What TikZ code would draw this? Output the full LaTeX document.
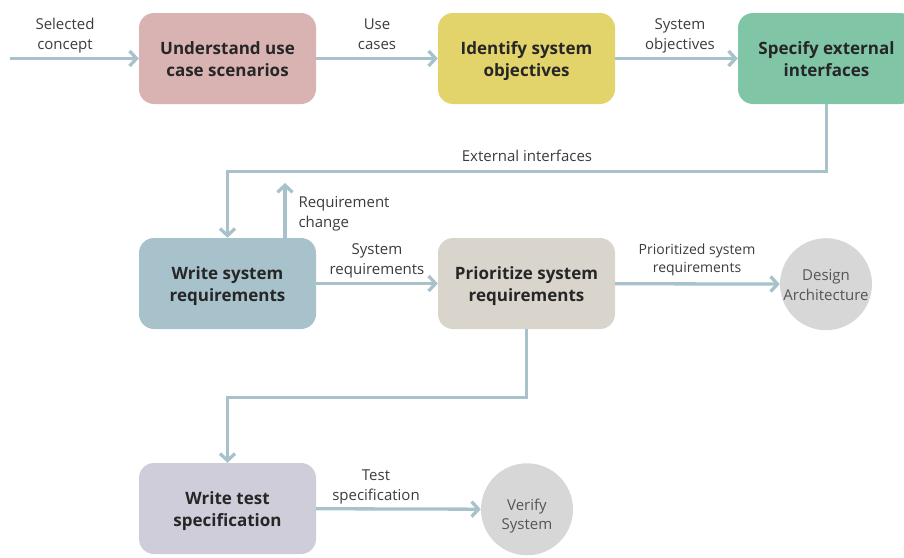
\documentclass[tikz,border=0pt]{standalone}
\usepackage{fontspec}
\setmainfont{Open Sans}
\usetikzlibrary{arrows.meta}

\definecolor{cPink}{HTML}{D9B2B2}
\definecolor{cYellow}{HTML}{E2D36A}
\definecolor{cGreen}{HTML}{80C5A6}
\definecolor{cBlue}{HTML}{A7C2CB}
\definecolor{cBeige}{HTML}{D9D5CD}
\definecolor{cLav}{HTML}{CFCDD9}
\definecolor{cCircle}{HTML}{D7D7D7}
\definecolor{cArrow}{HTML}{A7C2CB}
\definecolor{cText}{HTML}{262626}
\definecolor{cLabel}{HTML}{3C3C3C}
\definecolor{cCircText}{HTML}{555555}

% multi-line text boxes sit on their last baseline, so the text height
% spans from the first line's cap height down to the last baseline
\tikzset{
  proc/.style={rounded corners=15pt, minimum width=177pt, minimum height=91pt,
    inner sep=0pt, align=center, text=cText, text height=35.4pt, text depth=0pt,
    font=\fontsize{17}{21.7}\selectfont\bfseries},
  endpt/.style={circle, fill=cCircle, minimum size=92pt, inner sep=0pt,
    align=center, text=cCircText, text depth=0pt,
    font=\fontsize{15}{19.5}\selectfont},
  flow/.style={draw=cArrow, line width=3.3pt,
    -{Straight Barb[length=7pt,width=15pt,line width=3.3pt]}},
  lbl/.style={align=center, text=cLabel, text height=31pt, text depth=0pt,
    font=\fontsize{15}{20}\selectfont},
}

\begin{document}
\begin{tikzpicture}[x=1pt, y=-1pt]
\useasboundingbox (0,0) rectangle (904,557);

% process steps
\node[proc, fill=cPink]   (u) at (227.5,58.5)  {Understand use\\case scenarios};
\node[proc, fill=cYellow] (i) at (526.5,58.5)  {Identify system\\objectives};
\node[proc, fill=cGreen]  (s) at (826.5,58.5)  {Specify external\\interfaces};
\node[proc, fill=cBlue]   (w) at (227.5,283.5) {Write system\\requirements};
\node[proc, fill=cBeige]  (p) at (526.5,283.5) {Prioritize system\\requirements};
\node[proc, fill=cLav]    (t) at (227.5,508.5) {Write test\\specification};

% downstream activities
\node[endpt, text height=32pt]   (da) at (826,284.2) {Design\\Architecture};
\node[endpt, text height=40.4pt] (vs) at (527,509.3) {Verify\\System};

% free ends
\coordinate (in) at (10,58.5);
\coordinate (rc) at (285,183);

% connectors
\draw[flow] (in) -- (u.west);
\draw[flow] (u) -- (i);
\draw[flow] (i) -- (s);
\draw[flow] (s.south) -- ++(0,67.5) -| (w.north);
\draw[flow] ([xshift=57.5pt]w.north) -- (rc);
\draw[flow] (w) -- (p);
\draw[flow] (p) -- (da);
\draw[flow] (p.south) -- ++(0,68) -| (t.north);
\draw[flow] (t) -- (vs);

% connector labels
\node[lbl] (l1) at (65,33.8)  {Selected\\concept};
\node[lbl] (l2) at (377,33.8) {Use\\cases};
\node[lbl] (l3) at (680,33.8) {System\\objectives};
\node[lbl, text height=11pt] (l4) at (527,155.5) {External interfaces};
\node[lbl, align=left, anchor=west] (l5) at (295,212.2) {Requirement\\change};
\node[lbl] (l6) at (377,258.8) {System\\requirements};
\node[lbl, text height=28pt, font=\fontsize{14}{18}\selectfont] (l7) at (697,258) {Prioritized system\\requirements};
\node[lbl] (l8) at (376,484.5) {Test\\specification};
\end{tikzpicture}
\end{document}
